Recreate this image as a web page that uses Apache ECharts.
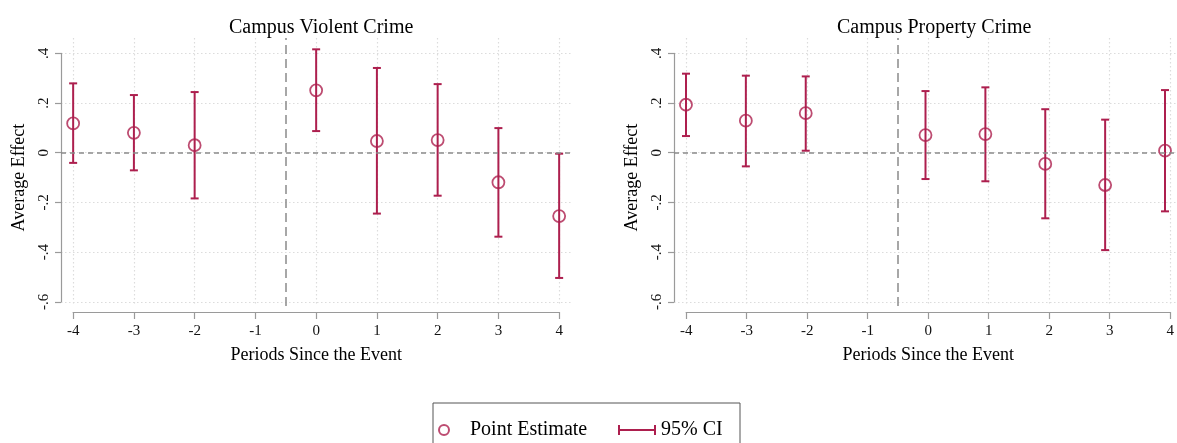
<!DOCTYPE html>
<html>
<head>
<meta charset="utf-8">
<script src="https://cdn.jsdelivr.net/npm/echarts@6/dist/echarts.min.js"></script>
<style>
  html, body { margin: 0; padding: 0; background: #fff; }
  #chart { width: 1177px; height: 443px; }
</style>
</head>
<body>
<div id="chart"></div>
<script>
// Event-study estimates by period relative to the event (period -1 is the omitted reference)
const periods = [-4, -3, -2, 0, 1, 2, 3, 4];

const violentEst = [0.118, 0.080, 0.030, 0.251, 0.047, 0.051, -0.119, -0.255];
const violentLo  = [-0.041, -0.071, -0.184, 0.087, -0.245, -0.173, -0.338, -0.504];
const violentHi  = [0.279, 0.232, 0.244, 0.416, 0.341, 0.276, 0.099, -0.004];

const propertyEst = [0.193, 0.129, 0.159, 0.071, 0.075, -0.045, -0.130, 0.008];
const propertyLo  = [0.067, -0.055, 0.008, -0.106, -0.115, -0.264, -0.392, -0.236];
const propertyHi  = [0.318, 0.310, 0.307, 0.248, 0.263, 0.175, 0.133, 0.252];

const panelTitles = ['Campus Violent Crime', 'Campus Property Crime'];
const xTitle = 'Periods Since the Event';
const yTitle = 'Average Effect';
const legendNames = ['Point Estimate', '95% CI'];
const eventLine = -0.5;

const RED = '#ad1f4e';
const AXIS = '#9a9a9a';
const GRID = '#dcdcdc';
const FONT = '"Liberation Serif", "DejaVu Serif", serif';

// Stata-style tick labels: .4, .2, 0, -.2 ...
function stataNum(v) {
  const r = Math.round(v * 10) / 10;
  if (r === 0) return '0';
  return String(r).replace('0.', '.');
}

function ciRender(params, api) {
  const x = api.value(0);
  const p1 = api.coord([x, api.value(1)]);
  const p2 = api.coord([x, api.value(2)]);
  const cap = 4;
  const style = { stroke: RED, lineWidth: 2 };
  return {
    type: 'group',
    children: [
      { type: 'line', shape: { x1: p1[0], y1: p1[1], x2: p2[0], y2: p2[1] }, style },
      { type: 'line', shape: { x1: p1[0] - cap, y1: p1[1], x2: p1[0] + cap, y2: p1[1] }, style },
      { type: 'line', shape: { x1: p2[0] - cap, y1: p2[1], x2: p2[0] + cap, y2: p2[1] }, style }
    ]
  };
}

const panels = [
  { left: 61, est: violentEst, lo: violentLo, hi: violentHi },
  { left: 674, est: propertyEst, lo: propertyLo, hi: propertyHi }
];

const grid = [], xAxis = [], yAxis = [], series = [], title = [];
const unit = 60.75; // px per period

panels.forEach((p, i) => {
  const dataGrid = i * 2, frameGrid = i * 2 + 1;
  // data area: x from -4.2 to 4.2, y from -.6 to .4
  grid.push({ left: p.left, top: 53.3, width: unit * 8.4, height: 248.5 });
  // frame area: x ticks from -4 to 4, vertical guides
  grid.push({ left: p.left + unit * 0.2, top: 38, width: unit * 8, height: 268 });

  title.push({
    text: panelTitles[i],
    left: p.left + unit * 4.2,
    top: 13,
    textAlign: 'center',
    textStyle: { fontFamily: FONT, fontSize: 20, fontWeight: 'normal', color: '#000' }
  });

  xAxis.push({
    gridIndex: dataGrid, type: 'value', min: -4.2, max: 4.2,
    axisLine: { show: false }, axisTick: { show: false },
    axisLabel: { show: false }, splitLine: { show: false }
  });
  yAxis.push({
    gridIndex: dataGrid, type: 'value', min: -0.6, max: 0.4, interval: 0.2,
    name: yTitle, nameLocation: 'middle', nameGap: 33,
    nameTextStyle: { fontFamily: FONT, fontSize: 18, color: '#000' },
    axisLine: { show: true, onZero: false, lineStyle: { color: AXIS, width: 1.2 } },
    axisTick: { show: true, length: 6, lineStyle: { color: AXIS, width: 1.2 } },
    axisLabel: {
      rotate: 90, margin: 9, formatter: stataNum,
      fontFamily: FONT, fontSize: 15, color: '#111'
    },
    splitLine: { show: true, lineStyle: { color: GRID, type: [1.5, 2.5], width: 1.2 } }
  });

  xAxis.push({
    gridIndex: frameGrid, type: 'value', min: -4, max: 4, interval: 1,
    position: 'bottom', offset: 6,
    name: xTitle, nameLocation: 'middle', nameGap: 34,
    nameTextStyle: { fontFamily: FONT, fontSize: 18, color: '#000' },
    axisLine: { show: true, onZero: false, lineStyle: { color: AXIS, width: 1.2 } },
    axisTick: { show: true, length: 7, lineStyle: { color: AXIS, width: 1.2 } },
    axisLabel: { margin: 12, fontFamily: FONT, fontSize: 15, color: '#111' },
    splitLine: { show: true, lineStyle: { color: GRID, type: [1.5, 2.5], width: 1.2 } }
  });
  yAxis.push({
    gridIndex: frameGrid, type: 'value', min: 0, max: 1,
    axisLine: { show: false }, axisTick: { show: false },
    axisLabel: { show: false }, splitLine: { show: false }
  });

  // vertical event marker
  series.push({
    type: 'line', xAxisIndex: frameGrid, yAxisIndex: frameGrid, data: [],
    silent: true,
    markLine: {
      symbol: 'none', silent: true, label: { show: false },
      lineStyle: { color: '#8a8a8a', type: [9, 5], width: 1.5 },
      data: [{ xAxis: eventLine }]
    }
  });

  // confidence intervals with the zero reference line
  series.push({
    name: legendNames[1], type: 'custom',
    xAxisIndex: dataGrid, yAxisIndex: dataGrid,
    renderItem: ciRender,
    data: periods.map((x, k) => [x, p.lo[k], p.hi[k]]),
    z: 3,
    markLine: {
      symbol: 'none', silent: true, label: { show: false },
      lineStyle: { color: '#8a8a8a', type: [5, 4], width: 1.5 },
      data: [{ yAxis: 0 }]
    }
  });

  // point estimates
  series.push({
    name: legendNames[0], type: 'scatter',
    xAxisIndex: dataGrid, yAxisIndex: dataGrid,
    symbol: 'circle', symbolSize: 12,
    itemStyle: { color: 'rgba(255,255,255,0)', borderColor: RED, borderWidth: 1.8 },
    data: periods.map((x, k) => [x, p.est[k]]),
    z: 4
  });
});

const legendText = { fontFamily: FONT, fontSize: 20, color: '#000' };

const option = {
  backgroundColor: '#fff',
  animation: false,
  title,
  grid, xAxis, yAxis, series,
  graphic: [{
    type: 'rect', silent: true,
    shape: { x: 433, y: 403, width: 307, height: 60 },
    style: { fill: 'none', stroke: '#555', lineWidth: 1 }
  }],
  legend: [
    {
      left: 438, top: 420, padding: 0, itemWidth: 10, itemHeight: 10,
      selectedMode: false,
      data: [{
        name: legendNames[0], icon: 'circle',
        itemStyle: { color: 'rgba(255,255,255,0)', borderColor: RED, borderWidth: 2 }
      }],
      textStyle: Object.assign({ padding: [0, 0, 0, 16] }, legendText)
    },
    {
      left: 618, top: 420, padding: 0, itemWidth: 38, itemHeight: 10,
      selectedMode: false,
      data: [{
        name: legendNames[1],
        icon: 'path://M0,0h2v10h-2z M2,4h34v2h-34z M36,0h2v10h-2z',
        itemStyle: { color: RED }
      }],
      textStyle: legendText
    }
  ]
};

const chart = echarts.init(document.getElementById('chart'), null, { renderer: 'canvas' });
chart.setOption(option);
</script>
</body>
</html>
